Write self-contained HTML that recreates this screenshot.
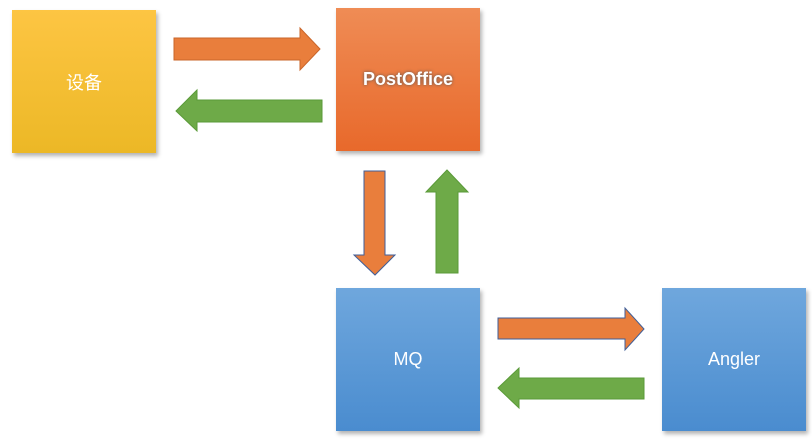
<!DOCTYPE html>
<html><head><meta charset="utf-8"><style>
body{margin:0;width:812px;height:444px;background:#fff;position:relative;overflow:hidden;font-family:"Liberation Sans","Noto Sans CJK SC",sans-serif}
.b{position:absolute;width:144px;height:143px;display:flex;align-items:center;justify-content:center;color:#fff;font-size:18px;box-shadow:2px 3px 4px rgba(0,0,0,.3)}
</style></head><body>
<div class="b" style="left:12px;top:10px;background:linear-gradient(#fdc543,#ecb826)">设备</div>
<div class="b" style="left:336px;top:8px;background:linear-gradient(#ef8c55,#e8692b);font-weight:bold;text-shadow:0 0 3px #555">PostOffice</div>
<div class="b" style="left:336px;top:288px;background:linear-gradient(#6fa7dd,#4a8ccf)">MQ</div>
<div class="b" style="left:662px;top:288px;background:linear-gradient(#6fa7dd,#4a8ccf)">Angler</div>
<svg width="812" height="444" style="position:absolute;left:0;top:0">
<g stroke-width="1">
<polygon points="174,38 300,38 300,28 320,49 300,70 300,60 174,60" fill="#e97e3c" stroke="#c9652a"/>
<polygon points="322,100 197,100 197,90 176,111 197,131 197,122 322,122" fill="#6eaa48" stroke="#5a9a38"/>
<polygon points="364,171 385,171 385,255 395,255 375,275 354,255 364,255" fill="#e97e3c" stroke="#3f5e98"/>
<polygon points="436,273 458,273 458,192 468,192 447,170 426,192 436,192" fill="#6eaa48" stroke="#5a9a38"/>
<polygon points="498,318 625,318 625,308 644,329 625,350 625,339 498,339" fill="#e97e3c" stroke="#3f5e98"/>
<polygon points="644,378 519,378 519,368 498,388 519,408 519,399 644,399" fill="#6eaa48" stroke="#5a9a38"/>
</g></svg>
</body></html>
